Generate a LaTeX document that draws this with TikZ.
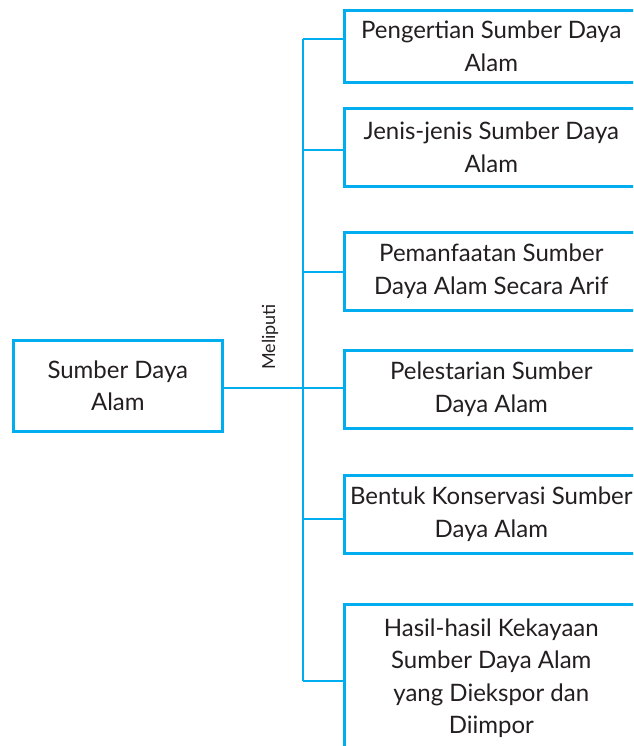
\documentclass[tikz,border=0pt]{standalone}
\usepackage{fontspec}
\setmainfont{Lato}
\definecolor{linec}{RGB}{0,173,238}
\definecolor{txt}{RGB}{35,31,32}
\begin{document}
\begin{tikzpicture}[x=1pt,y=-1pt,
  box/.style={draw=linec, line width=2.6pt, text=txt, align=center,
    font=\fontsize{24}{32.5}\selectfont, inner sep=0pt},
  rbox/.style={box, minimum width=294pt, anchor=north west},
  conn/.style={draw=linec, line width=2.6pt}]
\useasboundingbox (0,0) rectangle (633,746);
\clip (0,0) rectangle (633,746);
\node[box, minimum width=209pt, minimum height=91pt, anchor=north west] (L) at (12,339) {Sumber Daya\\Alam};
\node[rbox, minimum height=72pt] (b1) at (343,9) {Pengertian Sumber Daya\\Alam};
\node[rbox, minimum height=78pt] (b2) at (343,107) {Jenis-jenis Sumber Daya\\Alam};
\node[rbox, minimum height=78pt] (b3) at (343,231) {Pemanfaatan Sumber\\Daya Alam Secara Arif};
\node[rbox, minimum height=78pt] (b4) at (343,349) {Pelestarian Sumber\\Daya Alam};
\node[rbox, minimum height=78pt] (b5) at (343,474) {Bentuk Konservasi Sumber\\Daya Alam};
\node[rbox, minimum height=148pt] (b6) at (343,603) {Hasil-hasil Kekayaan\\Sumber Daya Alam\\yang Diekspor dan\\Diimpor};
\coordinate (j) at (303,388);
\coordinate (t1) at (303,39);
\coordinate (t2) at (303,150);
\coordinate (t3) at (303,272);
\coordinate (t4) at (303,388);
\coordinate (t5) at (303,519);
\coordinate (t6) at (303,681);
\draw[conn] (t1) -- (t6);
\draw[conn] (L.east |- j) -- (j);
\foreach \i in {1,...,6} {\draw[conn] (t\i) -- (t\i -| b\i.west);}
\node[rotate=90, text=txt, font=\fontsize{18}{20}\selectfont, inner sep=0pt] (m) at (270,337) {Meliputi};
\end{tikzpicture}
\end{document}
